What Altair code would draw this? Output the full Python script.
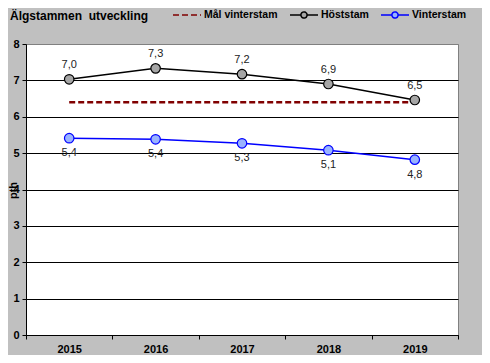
import altair as alt
import pandas as pd

years = ["2015", "2016", "2017", "2018", "2019"]
host = [7.03, 7.33, 7.17, 6.90, 6.46]
host_labels = ["7,0", "7,3", "7,2", "6,9", "6,5"]
vinter = [5.41, 5.38, 5.27, 5.08, 4.82]
vinter_labels = ["5,4", "5,4", "5,3", "5,1", "4,8"]
mal = [6.4, 6.4, 6.4, 6.4, 6.4]

series_names = ["Mål vinterstam", "Höststam", "Vinterstam"]
stroke_colors = ["#800000", "#000000", "#0000ff"]
fill_colors = ["transparent", "#a6a6a6", "#99b3ff"]
legend_paths = [
    "M-1,0H1",
    "M-1,0H-0.22M0.22,0H1M0.22,0A0.22,0.22,0,1,1,-0.22,0A0.22,0.22,0,1,1,0.22,0",
    "M-1,0H-0.22M0.22,0H1M0.22,0A0.22,0.22,0,1,1,-0.22,0A0.22,0.22,0,1,1,0.22,0",
]

rows = []
for y, v, l in zip(years, host, host_labels):
    rows.append({"series": "Höststam", "year": y, "value": v, "label": l})
for y, v, l in zip(years, vinter, vinter_labels):
    rows.append({"series": "Vinterstam", "year": y, "value": v, "label": l})
for y, v in zip(years, mal):
    rows.append({"series": "Mål vinterstam", "year": y, "value": v, "label": ""})
df = pd.DataFrame(rows)

FONT = "Liberation Sans"

x_enc = alt.X(
    "year:O",
    scale=alt.Scale(type="band", paddingInner=0, paddingOuter=0),
    axis=alt.Axis(
        title=None, tickBand="extent", labelAngle=0, labelFontWeight="bold",
        labelFontSize=11, labelColor="black", labelPadding=4, tickSize=4,
        tickColor="black", domainColor="black", grid=False,
    ),
)
y_enc = alt.Y(
    "value:Q",
    scale=alt.Scale(domain=[0, 8]),
    axis=alt.Axis(
        title="pth", values=[0, 1, 2, 3, 4, 5, 6, 7, 8], labelFontWeight="bold",
        labelFontSize=11, labelColor="black", tickSize=4, tickColor="black",
        domainColor="black", grid=True,
        gridColor={"condition": {"test": "datum.value == 8", "value": "#808080"}, "value": "black"},
        titleAngle=-90, titleX=-13, titleY=146, titleAlign="center",
        titleBaseline="middle", titleFontSize=11, titleFontWeight="bold",
        titleColor="black", labelPadding=3,
    ),
)

legend_def = alt.Legend(
    title=None, orient="none", direction="horizontal", legendX=146, legendY=-44,
    symbolSize=784, symbolStrokeWidth=1.5, symbolOpacity=1,
    labelFontWeight="bold", labelFontSize=10.5, labelColor="black", labelFont=FONT,
    labelOffset=2, columnPadding=9, padding=0, gridAlign="none",
)

color_scale = alt.Scale(domain=series_names, range=stroke_colors)
fill_scale = alt.Scale(domain=series_names, range=fill_colors)
shape_scale = alt.Scale(domain=series_names, range=legend_paths)
dash_scale = alt.Scale(domain=series_names, range=[[6, 3], [1, 0], [1, 0]])

base = alt.Chart(df).encode(x=x_enc, y=y_enc)

lines = base.transform_filter("datum.series != 'Mål vinterstam'").mark_line(strokeWidth=1.5).encode(
    color=alt.Color("series:N", scale=color_scale, legend=legend_def)
)
mal_line = base.transform_filter("datum.series == 'Mål vinterstam'").mark_line(
    strokeWidth=2.5, strokeDash=[6, 3]
).encode(color=alt.Color("series:N", scale=color_scale, legend=legend_def))
points = base.transform_filter("datum.series != 'Mål vinterstam'").mark_point(
    size=90, opacity=1, strokeWidth=1.2, shape="circle"
).encode(
    color=alt.Color("series:N", scale=color_scale, legend=legend_def),
    fill=alt.Fill("series:N", scale=fill_scale, legend=legend_def),
)
host_text = base.transform_filter("datum.series == 'Höststam'").mark_text(
    dy=-14, fontSize=11, font=FONT, color="#222222"
).encode(text="label:N")
vinter_text = base.transform_filter("datum.series == 'Vinterstam'").mark_text(
    dy=15, fontSize=11, font=FONT, color="#222222"
).encode(text="label:N")

legend_layer = base.transform_filter("datum.year == '2015'").mark_point(opacity=0).encode(
    color=alt.Color("series:N", scale=color_scale, legend=legend_def),
    fill=alt.Fill("series:N", scale=fill_scale, legend=legend_def),
    shape=alt.Shape("series:N", scale=shape_scale, legend=legend_def),
    strokeDash=alt.StrokeDash("series:N", scale=dash_scale, legend=legend_def),
)

chart = alt.layer(mal_line, lines, points, host_text, vinter_text, legend_layer).properties(
    width=432, height=291,
    autosize=alt.AutoSizeParams(type="none"),
    padding={"left": 18, "top": 36, "right": 24, "bottom": 20},
    background="#c0c0c0",
    title=alt.Title(
        "Älgstammen\u00a0 utveckling", anchor="start", frame="group", dx=-16, offset=0, dy=23,
        fontSize=12, fontWeight="bold", font=FONT, color="black",
    ),
).configure_view(stroke="#808080", fill="white").configure_axis(
    labelFont=FONT, titleFont=FONT
)

chart.save("out.html", embed_options={"renderer": "svg", "actions": False})
